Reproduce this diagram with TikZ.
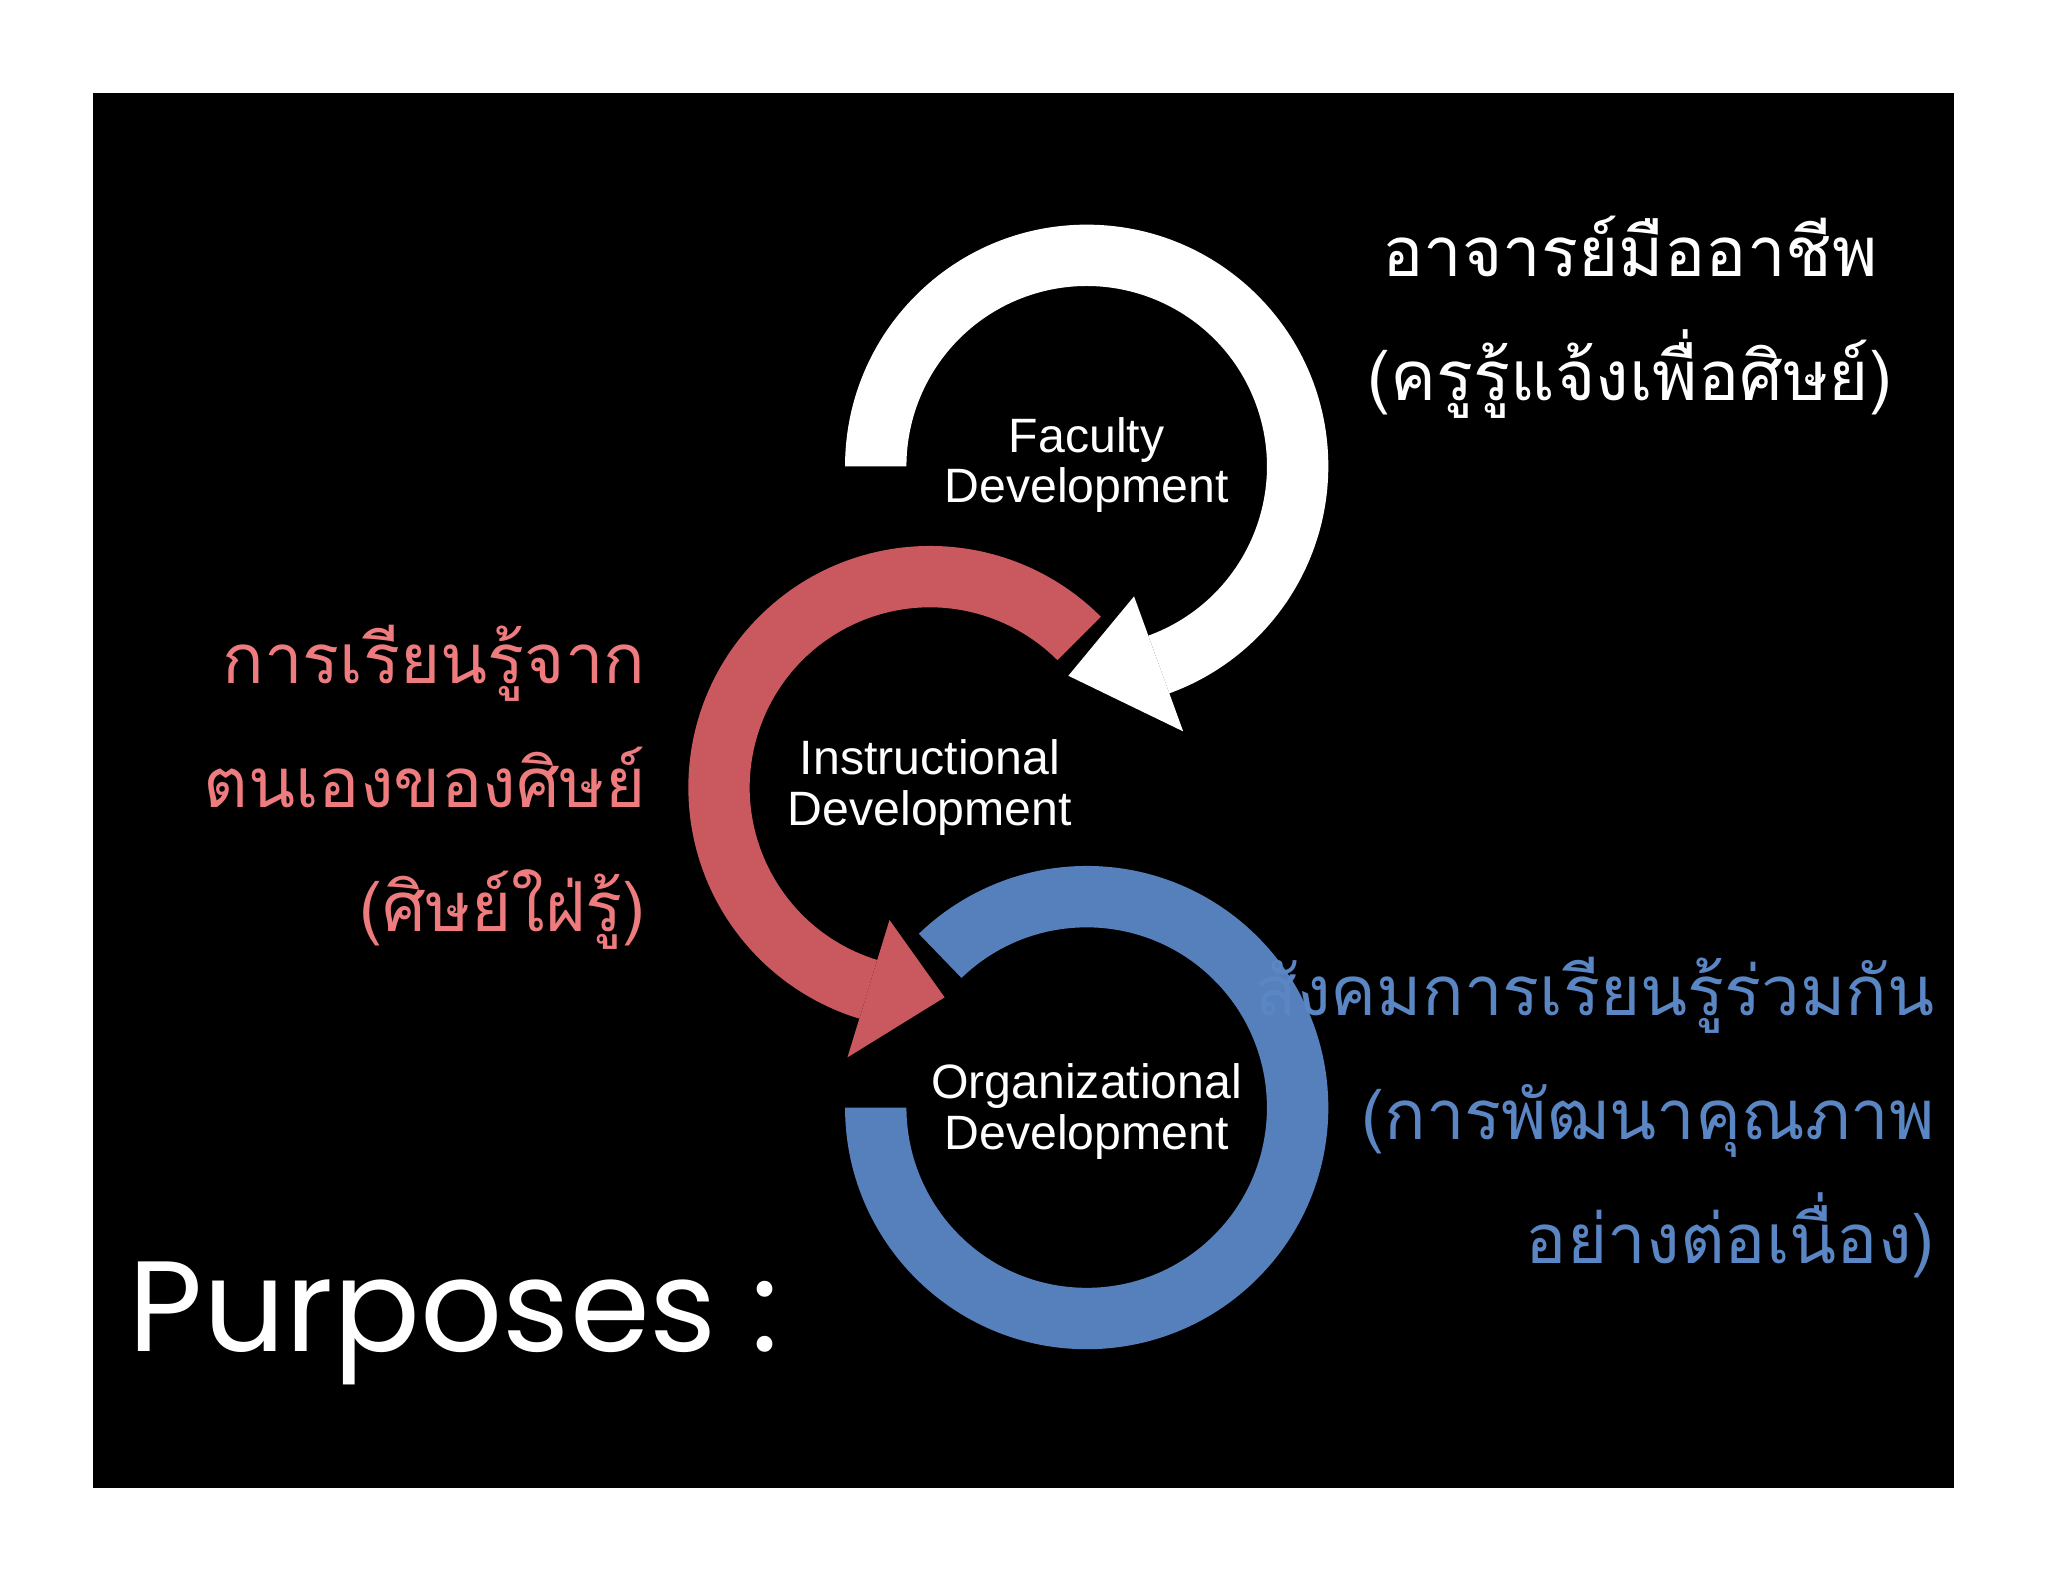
\documentclass[tikz,border=0pt]{standalone}
\usepackage{fontspec}
\setmainfont{Liberation Sans}
\newfontfamily\thai[Script=Thai]{Loma}
\newfontfamily\pop{Poppins}
\definecolor{bandred}{HTML}{C9595F}
\definecolor{bandblue}{HTML}{5680BC}
\definecolor{txtred}{HTML}{EE7B7E}
\definecolor{txtblue}{HTML}{5B86C4}
\tikzset{lbl/.style={text=white,font=\fontsize{10.5pt}{11pt}\selectfont,align=center,inner sep=0pt},
thtxt/.style={font=\thai\fontsize{15pt}{27pt}\selectfont,inner sep=0pt}}
\newcommand{\band}[6]{% cx cy a1 a2 color
\fill[#5] (#1,#2) ++(#3:185) arc[start angle=#3,end angle=#4,radius=185] -- ($(#1,#2)+(#4:138)$) arc[start angle=#4,end angle=#3,radius=138] -- cycle;
\fill[#5] ($(#1,#2)+(#4:106)$) -- ($(#1,#2)+(#4:216)$) -- ($(#1,#2)+(#6:161)$) -- cycle;}
\usetikzlibrary{calc}
\begin{document}
\begin{tikzpicture}[x=0.01cm,y=0.01cm]
\fill[white] (0,0) rectangle (1568,1211);
\fill[black] (71,72) rectangle (1496,1140);
% faculty band
\fill[white] (832,854) ++(180:185) arc[start angle=180,end angle=-70,radius=185] -- ($(832,854)+(-70:138)$) arc[start angle=-70,end angle=180,radius=138] -- cycle;
\fill[white] ($(832,854)+(-70:106)$) -- ($(832,854)+(-70:216)$) -- ($(832,854)+(-95:161)$) -- cycle;
% red band
\fill[bandred] (712,608) ++(45:185) arc[start angle=45,end angle=253,radius=185] -- ($(712,608)+(253:138)$) arc[start angle=253,end angle=45,radius=138] -- cycle;
\fill[bandred] ($(712,608)+(253:106)$) -- ($(712,608)+(253:216)$) -- ($(712,608)+(274:161)$) -- cycle;
% blue band
\fill[bandblue] (832,363) ++(-180:185) arc[start angle=-180,end angle=134,radius=185] -- ($(832,363)+(134:138)$) arc[start angle=134,end angle=-180,radius=138] -- cycle;
\node[lbl] (fd) at (832,855) {Faculty\\Development};
\node[lbl] (id) at (712,608) {Instructional\\Development};
\node[lbl] (od) at (832,360) {Organizational\\Development};
\node[thtxt,text=white,align=center] (tw) at (1248,968) {อาจารย์มืออาชีพ\\(ครูรู้แจ้งเพื่อศิษย์)};
\node[thtxt,text=txtred,align=right,anchor=east] (tr) at (495,608) {การเรียนรู้จาก\\ตนเองของศิษย์\\(ศิษย์ใฝ่รู้)};
\node[thtxt,text=txtblue,align=right,anchor=east] (tb) at (1482,355) {สังคมการเรียนรู้ร่วมกัน\\(การพัฒนาคุณภาพ\\อย่างต่อเนื่อง)};
\node[text=white,font=\pop\fontsize{28pt}{30pt}\selectfont,anchor=west,inner sep=0pt] (pp) at (98,198) {Purposes :};
\end{tikzpicture}
\end{document}
